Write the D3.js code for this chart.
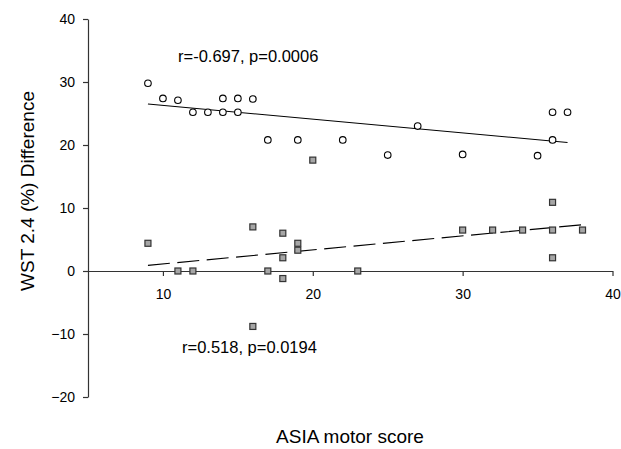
<!DOCTYPE html>
<html>
<head>
<meta charset="utf-8">
<script src="https://cdn.jsdelivr.net/npm/d3@7"></script>
<style>
  body { margin: 0; background: #fff; }
  svg { font-family: "Liberation Sans", Arial, sans-serif; }
  .axis path, .axis line { stroke: #333; stroke-width: 1.2; }
  .axis text { fill: #000; font-size: 14px; font-family: "Liberation Sans", Arial, sans-serif; }
</style>
</head>
<body>
<script>
var width = 621, height = 449;

// open circles
var circleX = [9, 10, 11, 12, 13, 14, 14, 15, 15, 16, 17, 19, 22, 25, 27, 30, 35, 36, 36, 37];
var circleY = [29.8, 27.4, 27.1, 25.2, 25.2, 27.4, 25.2, 27.4, 25.2, 27.3, 20.8, 20.8, 20.8, 18.4, 23.0, 18.5, 18.3, 25.2, 20.8, 25.2];

// grey squares
var squareX = [9, 11, 12, 16, 16, 17, 18, 18, 18, 19, 19, 20, 23, 30, 32, 34, 36, 36, 36, 38];
var squareY = [4.4, 0, 0, 7.0, -8.8, 0, 6.0, 2.1, -1.2, 4.4, 3.3, 17.6, 0, 6.5, 6.5, 6.5, 10.9, 6.5, 2.1, 6.5];

// fitted lines (end points)
var circleFitX = [9, 37], circleFitY = [26.5, 20.4];
var squareFitX = [9, 38], squareFitY = [0.9, 7.35];

var xTicks = [10, 20, 30, 40];
var yTicks = [-20, -10, 0, 10, 20, 30, 40];

var x = d3.scaleLinear().domain([5, 40]).range([88, 612.5]);
var y = d3.scaleLinear().domain([-20, 40]).range([397, 19]);

var svg = d3.select("body").append("svg")
  .attr("width", width)
  .attr("height", height);

// axes
svg.append("g")
  .attr("class", "axis")
  .attr("transform", "translate(0," + y(0) + ")")
  .call(d3.axisBottom(x).tickValues(xTicks).tickSize(5).tickSizeOuter(0).tickPadding(13));

svg.append("g")
  .attr("class", "axis")
  .attr("transform", "translate(" + x(5) + ",0)")
  .call(d3.axisLeft(y).tickValues(yTicks).tickSize(5).tickSizeOuter(0).tickPadding(8));

// fit lines
var line = d3.line()
  .x(function(d) { return x(d[0]); })
  .y(function(d) { return y(d[1]); });

svg.append("path")
  .datum(d3.zip(circleFitX, circleFitY))
  .attr("d", line)
  .attr("fill", "none")
  .attr("stroke", "#000")
  .attr("stroke-width", 1.1);

svg.append("path")
  .datum(d3.zip(squareFitX, squareFitY))
  .attr("d", line)
  .attr("fill", "none")
  .attr("stroke", "#000")
  .attr("stroke-width", 1.1)
  .attr("stroke-dasharray", "22,7.5");

// markers
svg.append("g").selectAll("circle")
  .data(d3.zip(circleX, circleY))
  .enter().append("circle")
  .attr("cx", function(d) { return x(d[0]); })
  .attr("cy", function(d) { return y(d[1]); })
  .attr("r", 3.3)
  .attr("fill", "#fff")
  .attr("stroke", "#000")
  .attr("stroke-width", 1.1);

var s = 6;
svg.append("g").selectAll("rect")
  .data(d3.zip(squareX, squareY))
  .enter().append("rect")
  .attr("x", function(d) { return x(d[0]) - s / 2; })
  .attr("y", function(d) { return y(d[1]) - s / 2; })
  .attr("width", s)
  .attr("height", s)
  .attr("fill", "#a6a6a6")
  .attr("stroke", "#333")
  .attr("stroke-width", 1.2);

// annotations
svg.append("text")
  .attr("x", 178).attr("y", 62)
  .style("font-size", "16.5px")
  .text("r=-0.697, p=0.0006");

svg.append("text")
  .attr("x", 182).attr("y", 353)
  .style("font-size", "16.5px")
  .text("r=0.518, p=0.0194");

// axis titles
svg.append("text")
  .attr("x", 350).attr("y", 443)
  .attr("text-anchor", "middle")
  .style("font-size", "19px")
  .text("ASIA motor score");

svg.append("text")
  .attr("transform", "translate(34,191) rotate(-90)")
  .attr("text-anchor", "middle")
  .style("font-size", "19px")
  .text("WST 2.4 (%) Difference");
</script>
</body>
</html>
